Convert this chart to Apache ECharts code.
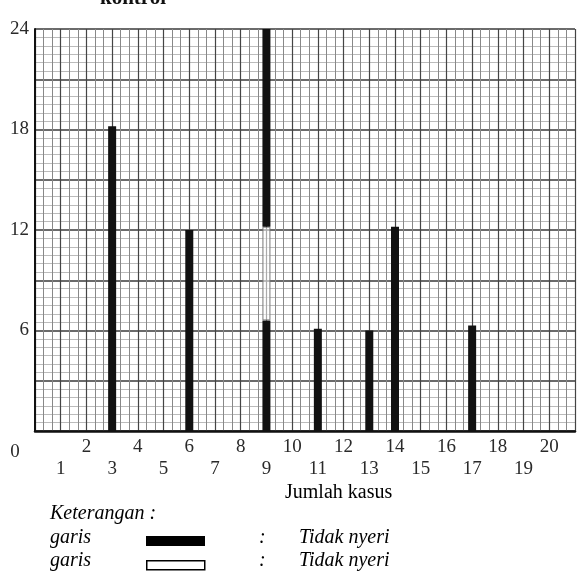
<!DOCTYPE html>
<html>
<head>
<meta charset="utf-8">
<script src="https://cdn.jsdelivr.net/npm/echarts@6/dist/echarts.min.js"></script>
<style>html,body{margin:0;padding:0;background:#fff}#c{width:578px;height:575px}</style>
</head>
<body>
<div id="c"></div>
<script>
// x categories: case number 0..21
var caseLabels = ['0','1','2','3','4','5','6','7','8','9','10','11','12','13','14','15','16','17','18','19','20',''];
// cases with a bar
var barCases = [3, 6, 9, 11, 13, 14, 17];
// black (lower) bar heights
var blackLower = [18.2, 12, 6.6, 6.1, 6, 12.2, 6.3];
// case 9: white middle segment and black upper segment
var stackCase = 9;
var whiteMid = 5.6;
var blackUpper = 11.8;
var yTicks = [0, 6, 12, 18, 24];

function sparse(cases, vals) {
  var arr = caseLabels.map(function () { return '-'; });
  cases.forEach(function (c, i) { arr[c] = vals[i]; });
  return arr;
}

var serif = '"Liberation Serif", "DejaVu Serif", serif';
var chart = echarts.init(document.getElementById('c'));
chart.setOption({
  animation: false,
  backgroundColor: '#fff',
  grid: { left: 35, right: 3, top: 29, bottom: 144, containLabel: false },
  xAxis: [{
    type: 'category',
    data: caseLabels,
    boundaryGap: false,
    axisLine: { show: true, lineStyle: { color: '#111', width: 2.5 } },
    axisTick: { show: false },
    splitLine: { show: false },
    axisLabel: {
      interval: 0,
      margin: 5,
      fontFamily: serif,
      fontSize: 19,
      color: '#2a2a2a',
      lineHeight: 22,
      formatter: function (v) {
        if (v === '0') return '{z|0}';
        if (v === '') return '';
        return (+v % 2 === 1) ? '\n' + v : v;
      },
      rich: { z: { fontFamily: serif, fontSize: 19, color: '#2a2a2a', padding: [11, 40, 0, 0] } }
    }
  }, {
    type: 'value', min: 0, max: 21, interval: 1,
    position: 'bottom',
    axisLine: { show: false }, axisTick: { show: false }, axisLabel: { show: false },
    splitLine: { show: true, lineStyle: { color: '#444', width: 1.2 } },
    minorTick: { show: false, splitNumber: 3 },
    minorSplitLine: { show: true, lineStyle: { color: '#888', width: 1 } }
  }],
  yAxis: {
    type: 'value', min: 0, max: 24, interval: 3,
    axisLine: { show: true, lineStyle: { color: '#111', width: 2 } },
    axisTick: { show: false },
    axisLabel: {
      margin: 6,
      fontFamily: serif, fontSize: 19, color: '#2a2a2a',
      formatter: function (v) { return (v > 0 && yTicks.indexOf(v) >= 0) ? v : ''; }
    },
    splitLine: { show: true, lineStyle: { color: '#3a3a3a', width: 1.5 } },
    minorTick: { show: false, splitNumber: 6 },
    minorSplitLine: { show: true, lineStyle: { color: '#bbb', width: 1 } }
  },
  series: [{
    type: 'bar', name: 'Tidak nyeri', stack: 'a', xAxisIndex: 0,
    barWidth: 8,
    itemStyle: { color: '#111' },
    data: sparse(barCases, blackLower),
    z: 5
  }, {
    type: 'bar', name: 'Tidak nyeri (putih)', stack: 'a', xAxisIndex: 0,
    barWidth: 8,
    itemStyle: { color: 'rgba(255,255,255,0.55)', borderColor: '#777', borderWidth: 1 },
    data: sparse([stackCase], [whiteMid]),
    z: 5
  }, {
    type: 'bar', name: 'Tidak nyeri (atas)', stack: 'a', xAxisIndex: 0,
    barWidth: 8,
    itemStyle: { color: '#111' },
    data: sparse([stackCase], [blackUpper]),
    z: 5
  }],
  graphic: [
    { type: 'text', left: 100, top: -12, style: { text: 'kontrol', font: 'bold 21px ' + serif, fill: '#111' } },
    { type: 'text', left: 285, top: 483, style: { text: 'Jumlah kasus', font: '20px ' + serif, fill: '#000' } },
    { type: 'text', left: 50, top: 504, style: { text: 'Keterangan :', font: 'italic 20px ' + serif, fill: '#000' } },
    { type: 'text', left: 50, top: 528, style: { text: 'garis', font: 'italic 20px ' + serif, fill: '#000' } },
    { type: 'rect', left: 146, top: 536, shape: { width: 59, height: 10 }, style: { fill: '#000' } },
    { type: 'text', left: 259, top: 528, style: { text: ':', font: 'italic 20px ' + serif, fill: '#000' } },
    { type: 'text', left: 299, top: 528, style: { text: 'Tidak nyeri', font: 'italic 20px ' + serif, fill: '#000' } },
    { type: 'text', left: 50, top: 551, style: { text: 'garis', font: 'italic 20px ' + serif, fill: '#000' } },
    { type: 'rect', left: 146, top: 560, shape: { width: 58, height: 9 }, style: { fill: '#fff', stroke: '#000', lineWidth: 1.5 } },
    { type: 'text', left: 259, top: 551, style: { text: ':', font: 'italic 20px ' + serif, fill: '#000' } },
    { type: 'text', left: 299, top: 551, style: { text: 'Tidak nyeri', font: 'italic 20px ' + serif, fill: '#000' } }
  ]
});
</script>
</body>
</html>
